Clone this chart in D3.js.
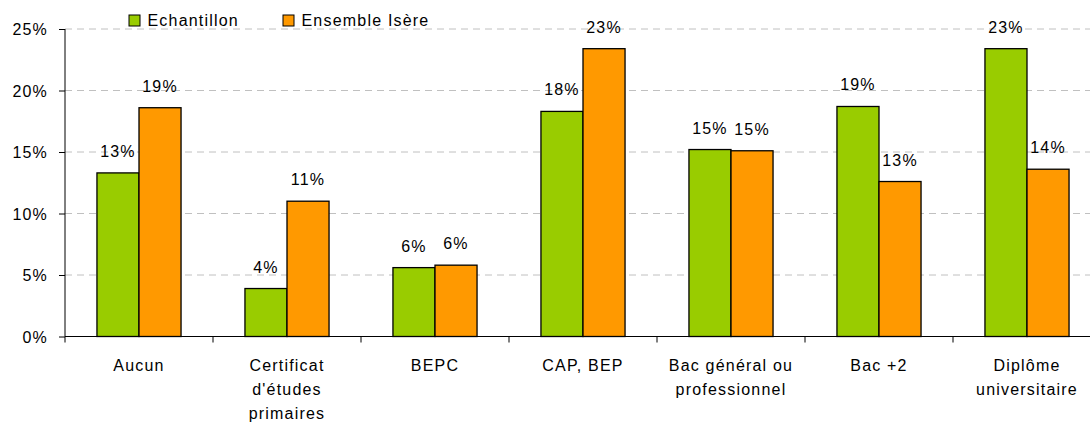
<!DOCTYPE html>
<html>
<head>
<meta charset="utf-8">
<script src="https://cdn.jsdelivr.net/npm/d3@7"></script>
<style>
  body { margin: 0; background: #fff; }
  text { font-family: "Liberation Sans", Arial, sans-serif; font-size: 16px; fill: #000; letter-spacing: 1.2px; }
</style>
</head>
<body>
<div id="chart"></div>
<script>
// categories (multi-line labels split on |)
var categories = ["Aucun", "Certificat|d'études|primaires", "BEPC", "CAP, BEP",
                  "Bac général ou|professionnel", "Bac +2", "Diplôme|universitaire"];
var seriesNames = ["Echantillon", "Ensemble Isère"];
var echantillon = [0.133, 0.039, 0.056, 0.183, 0.152, 0.187, 0.234];
var isere = [0.186, 0.110, 0.058, 0.234, 0.151, 0.126, 0.136];
var yTicks = [0, 0.05, 0.10, 0.15, 0.20, 0.25];

var width = 1090, height = 423;
var colors = ["#99CC00", "#FF9900"];

var margin = {top: 29, left: 65, bottom: 86.5};
var plotRight = 1101;

var svg = d3.select("#chart").append("svg")
  .attr("width", width)
  .attr("height", height);

var x = d3.scaleBand()
  .domain(categories)
  .range([margin.left, plotRight])
  .paddingInner(0)
  .paddingOuter(0);

// two bars of ~42px in a 148px band
var x1 = d3.scaleBand()
  .domain([0, 1])
  .range([0, x.bandwidth()])
  .paddingInner(0)
  .paddingOuter(0.76);

var y = d3.scaleLinear()
  .domain([0, 0.25])
  .range([height - margin.bottom, margin.top]);

var pct = d3.format(".0%");

// dashed gridlines
svg.append("g")
  .selectAll("line")
  .data(yTicks.filter(function(d) { return d > 0; }))
  .enter().append("line")
  .attr("x1", margin.left)
  .attr("x2", width)
  .attr("y1", function(d) { return y(d); })
  .attr("y2", function(d) { return y(d); })
  .attr("stroke", "#c0c0c0")
  .attr("stroke-width", 1)
  .attr("stroke-dasharray", "7,5");

// bars
var rows = categories.map(function(c, i) {
  return {cat: c, vals: [echantillon[i], isere[i]]};
});

var groups = svg.append("g")
  .selectAll("g")
  .data(rows)
  .enter().append("g")
  .attr("transform", function(d) { return "translate(" + x(d.cat) + ",0)"; });

groups.selectAll("rect")
  .data(function(d) { return d.vals.map(function(v, k) { return {k: k, v: v}; }); })
  .enter().append("rect")
  .attr("x", function(d) { return x1(d.k); })
  .attr("y", function(d) { return y(d.v); })
  .attr("width", x1.bandwidth())
  .attr("height", function(d) { return y(0) - y(d.v); })
  .attr("fill", function(d) { return colors[d.k]; })
  .attr("stroke", "#000")
  .attr("stroke-width", 1.3);

groups.selectAll("text.val")
  .data(function(d) { return d.vals.map(function(v, k) { return {k: k, v: v}; }); })
  .enter().append("text")
  .attr("class", "val")
  .attr("x", function(d) { return x1(d.k) + x1.bandwidth() / 2; })
  .attr("y", function(d) { return y(d.v) - 16; })
  .attr("text-anchor", "middle")
  .text(function(d) { return pct(d.v); });

// y axis
var yAxis = svg.append("g")
  .attr("transform", "translate(" + margin.left + ",0)")
  .call(d3.axisLeft(y).tickValues(yTicks).tickFormat(pct).tickSize(6).tickPadding(11));
yAxis.select(".domain").attr("stroke", "#000").attr("d", "M0," + y(0.25) + "V" + y(0));
yAxis.selectAll("text").style("font-size", "16px").attr("font-family", null).attr("dy", "0.36em");

// x axis
var xAxis = svg.append("g")
  .attr("transform", "translate(0," + y(0) + ")");
xAxis.append("line")
  .attr("x1", margin.left).attr("x2", plotRight)
  .attr("stroke", "#000");
xAxis.selectAll("line.tick")
  .data(categories)
  .enter().append("line")
  .attr("class", "tick")
  .attr("x1", function(d) { return x(d); })
  .attr("x2", function(d) { return x(d); })
  .attr("y1", 0).attr("y2", 6)
  .attr("stroke", "#000");

var xl = xAxis.selectAll("text.cat")
  .data(categories)
  .enter().append("text")
  .attr("class", "cat")
  .attr("text-anchor", "middle")
  .attr("transform", function(d) { return "translate(" + (x(d) + x.bandwidth() / 2) + ",34.5)"; });
xl.selectAll("tspan")
  .data(function(d) { return d.split("|"); })
  .enter().append("tspan")
  .attr("x", 0)
  .attr("y", function(d, i) { return i * 24; })
  .text(function(d) { return d; });

// legend
var legendX = [129, 283];
var legend = svg.append("g")
  .selectAll("g")
  .data(seriesNames)
  .enter().append("g")
  .attr("transform", function(d, i) { return "translate(" + legendX[i] + ",15)"; });
legend.append("rect")
  .attr("width", 11).attr("height", 11)
  .attr("fill", function(d, i) { return colors[i]; })
  .attr("stroke", "#000")
  .attr("stroke-width", 1);
legend.append("text")
  .attr("x", 18.5)
  .attr("y", 11)
  .text(function(d) { return d; });
</script>
</body>
</html>
